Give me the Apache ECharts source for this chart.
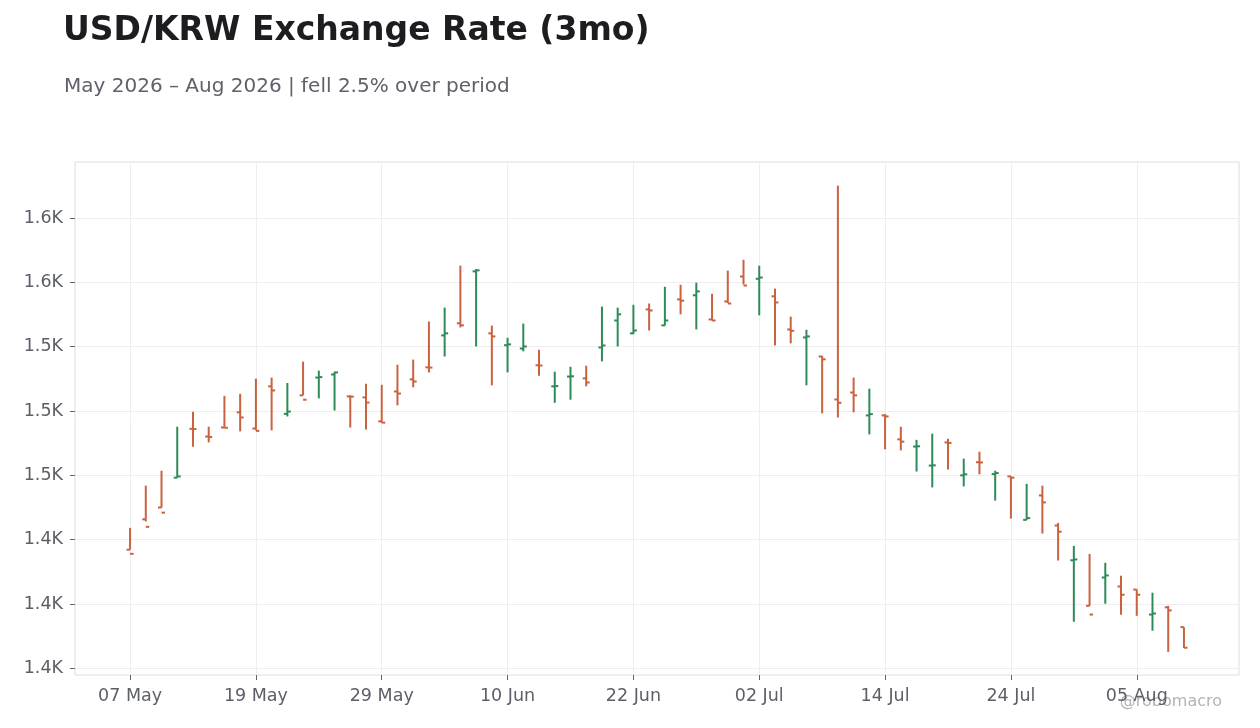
<!DOCTYPE html>
<html>
<head>
<meta charset="utf-8">
<title>USD/KRW Exchange Rate (3mo)</title>
<script src="https://cdn.jsdelivr.net/npm/echarts@6/dist/echarts.min.js"></script>
<style>
  html, body { margin: 0; padding: 0; background: #ffffff; }
  #chart { width: 1260px; height: 728px; }
</style>
</head>
<body>
<div id="chart"></div>
<script>
// trading days (weekdays), 07 May - 10 Aug 2026
var dates = [
  '07 May', '08 May', '11 May', '12 May', '13 May', '14 May', '15 May', '18 May',
  '19 May', '20 May', '21 May', '22 May', '25 May', '26 May', '27 May', '28 May',
  '29 May', '01 Jun', '02 Jun', '03 Jun', '04 Jun', '05 Jun', '08 Jun', '09 Jun',
  '10 Jun', '11 Jun', '12 Jun', '15 Jun', '16 Jun', '17 Jun', '18 Jun', '19 Jun',
  '22 Jun', '23 Jun', '24 Jun', '25 Jun', '26 Jun', '29 Jun', '30 Jun', '01 Jul',
  '02 Jul', '03 Jul', '06 Jul', '07 Jul', '08 Jul', '09 Jul', '10 Jul', '13 Jul',
  '14 Jul', '15 Jul', '16 Jul', '17 Jul', '20 Jul', '21 Jul', '22 Jul', '23 Jul',
  '24 Jul', '27 Jul', '28 Jul', '29 Jul', '30 Jul', '31 Jul', '03 Aug', '04 Aug',
  '05 Aug', '06 Aug', '07 Aug', '10 Aug'
]

var openVals = [
  1446.1, 1457.9, 1462.5, 1474.1, 1493.1, 1490.1, 1493.6, 1499.5, 1493.2, 1509.6,
  1498.9, 1506.1, 1513.0, 1514.2, 1505.7, 1505.3, 1496.0, 1507.6, 1512.3, 1517.0,
  1529.4, 1534.1, 1554.3, 1530.2, 1525.6, 1524.3, 1517.8, 1509.6, 1513.4, 1512.7,
  1524.7, 1535.2, 1530.2, 1539.5, 1533.3, 1543.4, 1545.0, 1535.6, 1542.6, 1552.3,
  1551.4, 1544.6, 1531.7, 1528.6, 1521.2, 1504.5, 1507.2, 1498.3, 1498.3, 1489.0,
  1486.2, 1478.8, 1487.8, 1475.0, 1480.1, 1475.5, 1474.6, 1457.7, 1467.2, 1455.5,
  1442.0, 1424.3, 1435.3, 1431.8, 1430.6, 1420.9, 1423.7, 1416.0
]
var highVals = [
  1454.6, 1471.0, 1476.8, 1493.9, 1499.7, 1493.9, 1505.9, 1506.7, 1512.6, 1513.0,
  1510.9, 1519.2, 1515.7, 1515.3, 1506.1, 1510.6, 1510.2, 1518.0, 1520.0, 1534.8,
  1540.2, 1556.5, 1555.2, 1533.2, 1528.5, 1534.0, 1523.8, 1515.3, 1517.2, 1517.6,
  1540.6, 1540.2, 1541.3, 1541.8, 1548.3, 1549.1, 1549.9, 1545.6, 1554.6, 1558.8,
  1556.5, 1547.6, 1536.7, 1531.6, 1521.4, 1587.6, 1513.0, 1508.7, 1498.8, 1493.9,
  1488.8, 1491.2, 1489.2, 1481.5, 1484.2, 1476.8, 1474.6, 1471.7, 1471.0, 1456.5,
  1447.6, 1444.5, 1441.0, 1436.0, 1430.6, 1429.4, 1424.3, 1416.0
]
var lowVals = [
  1446.1, 1457.1, 1462.5, 1474.1, 1486.1, 1487.8, 1493.6, 1492.1, 1492.5, 1492.5,
  1497.9, 1506.1, 1504.9, 1500.2, 1493.6, 1492.8, 1495.4, 1502.2, 1509.2, 1515.0,
  1521.2, 1532.5, 1525.1, 1510.0, 1515.0, 1523.2, 1513.7, 1503.2, 1504.4, 1509.6,
  1519.3, 1525.1, 1529.9, 1531.3, 1533.2, 1537.6, 1531.7, 1535.2, 1542.0, 1549.2,
  1537.2, 1525.5, 1526.3, 1510.0, 1499.1, 1497.5, 1499.5, 1490.9, 1485.1, 1484.7,
  1476.5, 1470.3, 1477.3, 1470.7, 1475.4, 1465.2, 1458.2, 1457.7, 1452.4, 1441.9,
  1418.1, 1424.3, 1425.1, 1420.8, 1420.4, 1414.6, 1406.4, 1407.9
]
var closeVals = [
  1444.5, 1455.0, 1460.5, 1474.6, 1493.0, 1489.9, 1493.5, 1497.5, 1492.3, 1508.0,
  1499.8, 1504.4, 1513.2, 1515.0, 1505.6, 1503.3, 1495.5, 1506.8, 1511.5, 1516.9,
  1530.2, 1533.3, 1554.7, 1529.0, 1525.9, 1525.1, 1517.7, 1509.7, 1513.5, 1511.1,
  1525.5, 1537.6, 1531.3, 1539.1, 1535.2, 1542.9, 1546.5, 1535.2, 1541.8, 1548.8,
  1551.9, 1542.2, 1531.2, 1529.0, 1520.1, 1503.2, 1506.1, 1498.8, 1497.9, 1488.1,
  1486.3, 1478.9, 1487.6, 1475.4, 1480.0, 1475.9, 1474.1, 1458.4, 1464.5, 1453.1,
  1442.3, 1420.9, 1436.1, 1428.6, 1428.6, 1421.3, 1422.5, 1408.0
]

// axis ticks
var xTicks = [0, 8, 16, 24, 32, 40, 48, 56, 64]
var yTicks = [1400, 1425, 1450, 1475, 1500, 1525, 1550, 1575]
var yTickLabels = ['1.4K', '1.4K', '1.4K', '1.5K', '1.5K', '1.5K', '1.6K', '1.6K']

var UP = '#2e8b57', DOWN = '#c8623f'
var FONT = 'DejaVu Sans'

var chart = echarts.init(document.getElementById('chart'))

var seriesData = []
for (var i = 0; i < dates.length; i++) {
  seriesData.push([i, openVals[i], closeVals[i], lowVals[i], highVals[i]])
}

// OHLC bar: wick low-high, open tick left, close tick right
function renderOhlc(params, api) {
  var idx = api.value(0)
  var o = api.coord([idx, api.value(1)])
  var c = api.coord([idx, api.value(2)])
  var lo = api.coord([idx, api.value(3)])
  var hi = api.coord([idx, api.value(4)])
  var color = api.value(2) >= api.value(1) ? UP : DOWN
  var st = { stroke: color, lineWidth: 2 }
  return {
    type: 'group',
    children: [
      { type: 'line', shape: { x1: hi[0], y1: hi[1], x2: lo[0], y2: lo[1] }, style: st },
      { type: 'line', shape: { x1: o[0] - 3.5, y1: o[1], x2: o[0], y2: o[1] }, style: st },
      { type: 'line', shape: { x1: c[0], y1: c[1], x2: c[0] + 3.5, y2: c[1] }, style: st }
    ]
  }
}

var option = {
  animation: false,
  backgroundColor: '#ffffff',
  title: [
    {
      text: 'USD/KRW Exchange Rate (3mo)',
      left: 58,
      top: 10,
      textStyle: { fontFamily: FONT, fontSize: 33, fontWeight: 'bold', color: '#1c1c21' }
    },
    {
      text: 'May 2026 – Aug 2026 | fell 2.5% over period',
      left: 59,
      top: 72,
      textStyle: { fontFamily: FONT, fontSize: 20, fontWeight: 'normal', color: '#5f616b' }
    }
  ],
  graphic: [
    {
      type: 'text',
      right: 38,
      top: 694,
      style: { text: '@robomacro', fontFamily: FONT, fontSize: 16, fill: '#b3b3bb' }
    }
  ],
  grid: {
    left: 75,
    top: 162,
    width: 1164,
    height: 513,
    show: true,
    borderColor: '#dedee2',
    borderWidth: 1,
    containLabel: false
  },
  xAxis: {
    type: 'value',
    min: -3.5,
    max: 70.5,
    axisLine: { show: false, onZero: false },
    axisTick: {
      show: true,
      length: 5,
      customValues: xTicks,
      lineStyle: { color: '#62656e', width: 1 }
    },
    axisLabel: {
      customValues: xTicks,
      margin: 12,
      fontFamily: FONT,
      fontSize: 17.5,
      color: '#5c5f68',
      formatter: function (v) { return dates[v] }
    },
    splitLine: { show: true, lineStyle: { color: '#eeeef0', width: 1 } }
  },
  yAxis: {
    type: 'value',
    min: 1397.4,
    max: 1596.8,
    axisLine: { show: false, onZero: false },
    axisTick: {
      show: true,
      length: 5,
      customValues: yTicks,
      lineStyle: { color: '#62656e', width: 1 }
    },
    axisLabel: {
      customValues: yTicks,
      margin: 12,
      fontFamily: FONT,
      fontSize: 17.5,
      color: '#5c5f68',
      formatter: function (v) {
        var k = yTicks.indexOf(v)
        return k >= 0 ? yTickLabels[k] : ''
      }
    },
    splitLine: { show: true, lineStyle: { color: '#eeeef0', width: 1 } }
  },
  series: [
    {
      type: 'custom',
      renderItem: renderOhlc,
      clip: true,
      encode: { x: 0, y: [1, 2, 3, 4] },
      data: seriesData
    }
  ]
}

chart.setOption(option)
</script>
</body>
</html>
